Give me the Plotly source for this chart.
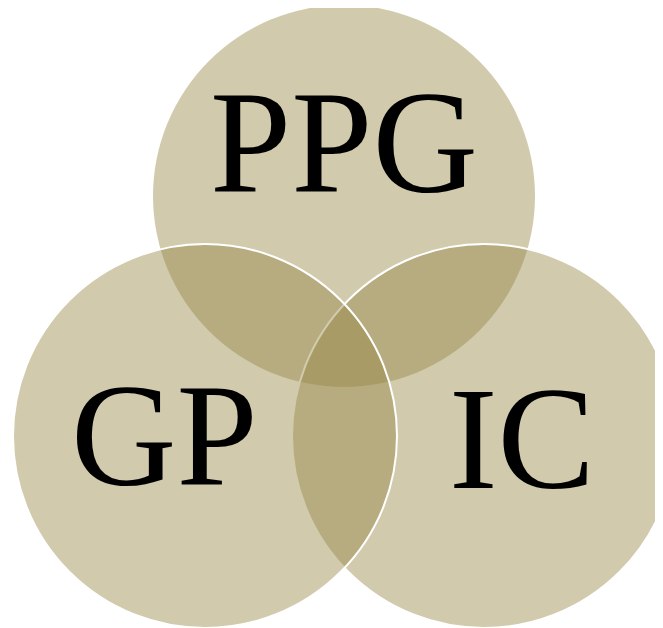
import plotly.graph_objects as go

labels = ["PPG", "IC", "GP"]
centers_x = [344, 484, 205]
centers_y = [196, 436, 436]
radii = [191, 192, 192]
outline = [0, 2, 2]
label_x = [344, 522, 164]
label_y = [143, 439, 436]

fill = "rgba(150,134,68,0.44)"
OFF = 8  # page body margin

fig = go.Figure()
fig.add_trace(go.Scatter(x=[OFF, 663 + OFF], y=[OFF, 628 + OFF], mode="markers",
                         marker=dict(opacity=0), hoverinfo="skip", showlegend=False))

for lab, cx, cy, r, lw in zip(labels, centers_x, centers_y, radii, outline):
    fig.add_shape(type="circle", xref="x", yref="y",
                  x0=cx - r, x1=cx + r, y0=cy - r, y1=cy + r,
                  fillcolor=fill,
                  line=dict(color="white", width=lw if lw else 0))

for lab, lx, ly in zip(labels, label_x, label_y):
    fig.add_annotation(x=lx, y=ly, xref="x", yref="y", text=lab, showarrow=False,
                       xanchor="center", yanchor="middle",
                       font=dict(family="Liberation Serif", size=146, color="black"))

fig.update_xaxes(range=[OFF, 663 + OFF], visible=False, showgrid=False, zeroline=False, fixedrange=True)
fig.update_yaxes(range=[628 + OFF, OFF], visible=False, showgrid=False, zeroline=False, fixedrange=True)
fig.update_layout(width=663, height=628, margin=dict(l=0, r=0, t=0, b=0),
                  paper_bgcolor="white", plot_bgcolor="white", showlegend=False)

fig.write_html("out.html")
